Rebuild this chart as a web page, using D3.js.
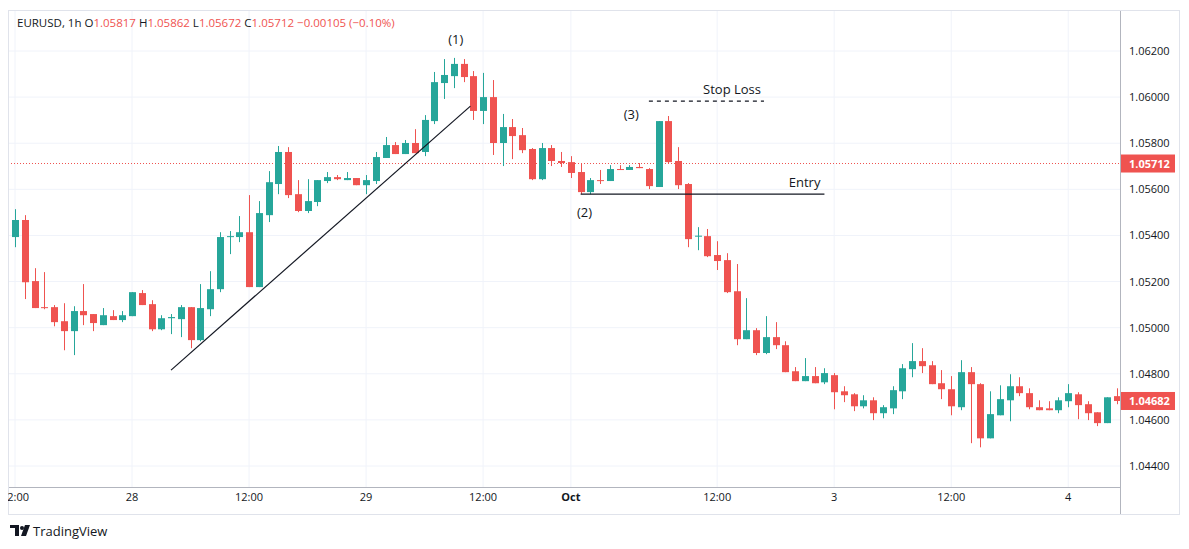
<!DOCTYPE html>
<html><head><meta charset="utf-8">
<script src="https://cdn.jsdelivr.net/npm/d3@7"></script>
<style>body{margin:0;background:#fff;font-family:"Open Sans","Noto Sans",sans-serif}</style>
</head><body><svg id="chart" width="1189" height="549"></svg>
<script>
// candles, 1h, oldest first
const opens = [1.05393,1.05467,1.05202,1.05089,1.05089,1.05028,1.04985,1.05072,1.05059,1.05011,1.0505,1.05033,1.0505,1.0515,1.05102,1.04993,1.05041,1.05037,1.05089,1.04946,
1.0508,1.05167,1.05393,1.05393,1.05414,1.05176,1.05488,1.05623,1.05762,1.05579,1.05506,1.05545,1.05636,1.05653,1.0564,1.05649,1.05618,1.05636,1.05736,1.05792,
1.05753,1.05801,1.05762,1.05896,1.06061,1.06091,1.06144,1.06091,1.0594,1.06,1.05801,1.0587,1.05835,1.05775,1.05644,1.05779,1.05723,1.05718,1.05675,1.05588,
1.0564,1.05636,1.05688,1.05684,1.05697,1.05688,1.0561,1.05896,1.05723,1.05623,1.05397,1.05397,1.05315,1.05293,1.05158,1.0495,1.04989,1.0489,1.04959,1.04924,
1.04811,1.04768,1.0479,1.04763,1.04794,1.04724,1.04711,1.04659,1.04685,1.04629,1.0465,1.04724,1.0482,1.04855,1.04837,1.04759,1.04733,1.04655,1.04807,1.04755,
1.0452,1.0462,1.04685,1.04746,1.04716,1.04655,1.0465,1.04642,1.04681,1.04711,1.04668,1.04633,1.04586,1.04703];
const highs = [1.05514,1.05488,1.05258,1.05241,1.05098,1.05106,1.05093,1.05189,1.05059,1.05085,1.05076,1.05072,1.05154,1.05163,1.05119,1.05054,1.05059,1.05098,1.05089,1.05189,
1.05245,1.05414,1.05419,1.05484,1.05575,1.05549,1.05679,1.05788,1.05783,1.0564,1.05644,1.0564,1.05675,1.05662,1.05675,1.05649,1.05662,1.05762,1.05827,1.05805,
1.05814,1.05861,1.05922,1.06109,1.06165,1.0617,1.06165,1.06113,1.06105,1.06074,1.05927,1.05905,1.05866,1.05779,1.05801,1.05792,1.05762,1.05744,1.05714,1.05649,
1.05684,1.05705,1.05705,1.05705,1.05714,1.05692,1.05896,1.05918,1.05783,1.05627,1.05436,1.05428,1.05375,1.05323,1.05276,1.05128,1.04998,1.0505,1.05024,1.04941,
1.04829,1.04868,1.04829,1.04824,1.04803,1.04746,1.04716,1.04707,1.04698,1.04664,1.04746,1.04842,1.04933,1.04911,1.04855,1.04816,1.0479,1.04859,1.04829,1.04759,
1.04724,1.0475,1.04798,1.04785,1.04737,1.04685,1.04681,1.04698,1.04755,1.0472,1.04681,1.04633,1.04698,1.04737];
const lows = [1.05349,1.05124,1.05085,1.0508,1.05006,1.04902,1.04881,1.05011,1.04985,1.05011,1.05033,1.05024,1.0505,1.05098,1.04985,1.04989,1.04972,1.04959,1.04911,1.04941,
1.0505,1.05154,1.05319,1.05371,1.05176,1.05176,1.05458,1.05579,1.05562,1.05501,1.05497,1.05527,1.05627,1.0564,1.0564,1.05618,1.05579,1.05623,1.05736,1.05753,
1.05753,1.05757,1.05744,1.05883,1.05992,1.06039,1.06065,1.05901,1.05883,1.05749,1.05701,1.05731,1.05757,1.0564,1.0564,1.05701,1.05697,1.05649,1.05579,1.05579,
1.05623,1.05636,1.05684,1.05684,1.05692,1.05601,1.0561,1.05714,1.05601,1.05349,1.05336,1.05306,1.0525,1.0515,1.04924,1.0495,1.04881,1.04885,1.04907,1.04807,
1.04768,1.04768,1.04759,1.04755,1.04646,1.04677,1.04638,1.0465,1.04599,1.04607,1.04625,1.0469,1.04785,1.04803,1.04755,1.0469,1.0462,1.04642,1.04499,1.04481,
1.0452,1.0462,1.04594,1.04703,1.04646,1.04642,1.04642,1.04629,1.04655,1.04603,1.04599,1.04573,1.04586,1.04668];
const closes = [1.05467,1.05197,1.05085,1.05085,1.05024,1.04985,1.05072,1.05054,1.0502,1.05054,1.05033,1.05054,1.05154,1.05098,1.04993,1.05041,1.05046,1.05089,1.04946,1.05085,
1.05167,1.05393,1.05397,1.05414,1.05176,1.05497,1.05631,1.05762,1.05575,1.05506,1.05549,1.0564,1.05653,1.05644,1.05649,1.05618,1.0564,1.0574,1.05792,1.05753,
1.05801,1.05757,1.05901,1.06065,1.06096,1.06144,1.06087,1.0594,1.06,1.05801,1.0587,1.05831,1.0577,1.05644,1.05779,1.05723,1.05714,1.05671,1.05588,1.0564,
1.05636,1.05688,1.05684,1.05697,1.05692,1.05614,1.05896,1.05718,1.05618,1.05384,1.05399,1.0531,1.05289,1.05154,1.0495,1.04989,1.0489,1.04959,1.04924,1.04807,
1.04768,1.0479,1.04759,1.04803,1.0472,1.04707,1.04659,1.04685,1.04629,1.04655,1.04729,1.04824,1.04855,1.04833,1.04755,1.04733,1.04659,1.04807,1.04755,1.0452,
1.04625,1.0469,1.04746,1.04716,1.04655,1.04642,1.04642,1.04685,1.04716,1.04664,1.04629,1.04586,1.04698,1.04682];

const priceTicks = [1.044,1.046,1.048,1.05,1.052,1.054,1.056,1.058,1.06,1.062];
const timeTicks = [{i:0,t:'12:00'},{i:12,t:'28'},{i:24,t:'12:00'},{i:36,t:'29'},{i:48,t:'12:00'},{i:57,t:'Oct'},{i:72,t:'12:00'},{i:84,t:'3'},{i:96,t:'12:00'},{i:108,t:'4'}];
// annotations: trendline, entry, stop loss
const trendLine = [{i:16,p:1.04816},{i:46.7,p:1.05961}];
const entryLine = [{i:58,p:1.05579},{i:83,p:1.05579}];
const stopLine = [{i:65,p:1.05983},{i:76.8,p:1.05983}];
const pointLabels = [{i:45.2,p:1.0623,t:'(1)'},{i:58.4,p:1.0548,t:'(2)'},{i:63.2,p:1.05905,t:'(3)'}];
const lastClose = 1.04682, crossPrice = 1.05712;

const svg = d3.select('#chart');
const green = '#26a69a', red = '#ef5350';
const x = d3.scaleLinear().domain([0, opens.length-1]).range([15, 1117]);
const y = d3.scaleLinear().domain([1.044, 1.062]).range([466, 51]);
const L = 8, R = 1120, T = 10, B = 487;

// grid
svg.append('g').selectAll('line').data(priceTicks).enter().append('line')
    .attr('x1',L).attr('x2',R).attr('y1',d=>y(d)).attr('y2',d=>y(d))
    .attr('stroke','#f0f3fa');
svg.append('g').selectAll('line').data(timeTicks).enter().append('line')
    .attr('x1',d=>x(d.i)).attr('x2',d=>x(d.i)).attr('y1',T).attr('y2',B)
    .attr('stroke','#f0f3fa');

let clip = svg.append('clipPath').attr('id','pl').append('rect').attr('x',L).attr('y',T).attr('width',R-L).attr('height',B-T);
let plot = svg.append('g').attr('clip-path','url(#pl)');

// red dotted line of the last price of the header candle
plot.append('line').attr('x1',L).attr('x2',R).attr('y1',y(crossPrice)).attr('y2',y(crossPrice))
    .attr('stroke',red).attr('stroke-dasharray','1,2');

// candles
let idx = d3.range(opens.length);
let cg = plot.append('g').selectAll('g').data(idx).enter().append('g');
cg.append('line')
    .attr('x1',i=>Math.round(x(i))+0.5).attr('x2',i=>Math.round(x(i))+0.5)
    .attr('y1',i=>y(highs[i])).attr('y2',i=>y(lows[i]))
    .attr('stroke',i=>closes[i]>=opens[i]?green:red);
cg.append('rect')
    .attr('x',i=>Math.round(x(i))-3).attr('width',7)
    .attr('y',i=>y(Math.max(opens[i],closes[i])))
    .attr('height',i=>Math.max(1,Math.abs(y(opens[i])-y(closes[i]))))
    .attr('fill',i=>closes[i]>=opens[i]?green:red);

// annotations
let ln = d3.line().x(d=>x(d.i)).y(d=>y(d.p));
plot.append('path').attr('d',ln(trendLine)).attr('stroke','#131722').attr('stroke-width',1.2).attr('fill','none');
plot.append('path').attr('d',ln(entryLine)).attr('stroke','#131722').attr('stroke-width',1.2).attr('fill','none');
plot.append('path').attr('d',ln(stopLine)).attr('stroke','#131722').attr('stroke-width',1.2).attr('stroke-dasharray','4,4').attr('fill','none');
plot.append('text').attr('x',x(83)-4).attr('y',y(1.05579)-7).attr('text-anchor','end')
    .attr('font-size',13).attr('fill','#131722').text('Entry');
plot.append('text').attr('x',x(76.8)-3).attr('y',y(1.05983)-7).attr('text-anchor','end')
    .attr('font-size',13).attr('fill','#131722').text('Stop Loss');
plot.selectAll('.pl').data(pointLabels).enter().append('text')
    .attr('x',d=>x(d.i)).attr('y',d=>y(d.p)).attr('text-anchor','middle')
    .attr('font-size',13).attr('fill','#131722').text(d=>d.t);

// frame and axes
svg.append('line').attr('x1',R+0.5).attr('x2',R+0.5).attr('y1',T).attr('y2',514).attr('stroke','#b2b5be');
svg.append('line').attr('x1',L).attr('x2',R).attr('y1',B+0.5).attr('y2',B+0.5).attr('stroke','#b2b5be');
svg.append('rect').attr('x',L+0.5).attr('y',T+0.5).attr('width',1171).attr('height',504).attr('fill','none').attr('stroke','#e0e3eb');

svg.append('g').selectAll('text').data(priceTicks).enter().append('text')
    .attr('x',1129).attr('y',d=>y(d)+4).attr('font-size',11).attr('fill','#131722')
    .text(d=>d.toFixed(5));
svg.append('g').selectAll('text').data(timeTicks).enter().append('text')
    .attr('x',d=>x(d.i)).attr('y',501).attr('text-anchor','middle').attr('font-size',11)
    .attr('fill','#131722').attr('font-weight',d=>d.t=='Oct'?'bold':'normal').text(d=>d.t);
svg.append('rect').attr('x',L-7).attr('y',490).attr('width',7).attr('height',20).attr('fill','#fff');

[[crossPrice],[lastClose]].forEach(function(d){
    svg.append('rect').attr('x',R+1).attr('y',y(d[0])-9).attr('width',54).attr('height',18).attr('fill',red);
    svg.append('text').attr('x',1129).attr('y',y(d[0])+4).attr('font-size',11).attr('font-weight','bold')
        .attr('fill','#fff').text(d[0].toFixed(5));
});

// header
let hd = svg.append('text').attr('x',17).attr('y',27).attr('font-size',11.5);
hd.append('tspan').attr('fill','#131722').text('EURUSD, 1h ');
hd.append('tspan').attr('fill','#131722').text(' O');
hd.append('tspan').attr('fill',red).text('1.05817');
hd.append('tspan').attr('fill','#131722').text(' H');
hd.append('tspan').attr('fill',red).text('1.05862');
hd.append('tspan').attr('fill','#131722').text(' L');
hd.append('tspan').attr('fill',red).text('1.05672');
hd.append('tspan').attr('fill','#131722').text(' C');
hd.append('tspan').attr('fill',red).text('1.05712');
hd.append('tspan').attr('fill',red).text('  \u22120.00105 (\u22120.10%)');

// logo
let lg = svg.append('g').attr('transform','translate(10,525)');
lg.append('path').attr('d','M0,0 H9 V11 H5 V3 H0 Z').attr('fill','#131722');
lg.append('circle').attr('cx',12).attr('cy',3).attr('r',2).attr('fill','#131722');
lg.append('path').attr('d','M15,0 H20 L16,11 H11 Z').attr('fill','#131722');
svg.append('text').attr('x',33).attr('y',536).attr('font-size',13).attr('fill','#131722').text('TradingView');
</script></body></html>
